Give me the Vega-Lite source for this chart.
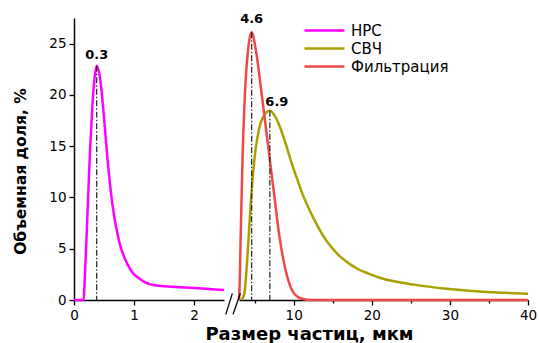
{
  "$schema": "https://vega.github.io/schema/vega-lite/v6.json",
  "padding": {"left": 13, "top": 13, "right": 0, "bottom": 0},
  "autosize": {"type": "pad"},
  "bounds": "flush",
  "config": {
    "view": {"stroke": null},
    "font": "DejaVu Sans",
    "axis": {
      "grid": false, "domainColor": "#000", "tickColor": "#000", "labelColor": "#000", "titleColor": "#000",
      "domainWidth": 1.5, "tickWidth": 1.3, "labelFont": "DejaVu Sans", "labelFontSize": 13.5, "labelPadding": 3,
      "titleFont": "DejaVu Sans", "titleFontWeight": "bold", "labelFlush": false
    }
  },
  "datasets": {
    "npc": [
      {"s": "НРС", "x": 0, "y": 0}, {"s": "НРС", "x": 0.1, "y": 0}, {"s": "НРС", "x": 0.16, "y": 0}, {"s": "НРС", "x": 0.175, "y": 1.5}, {"s": "НРС", "x": 0.222, "y": 8.0},
      {"s": "НРС", "x": 0.267, "y": 14.55}, {"s": "НРС", "x": 0.305, "y": 18.8}, {"s": "НРС", "x": 0.344, "y": 21.7}, {"s": "НРС", "x": 0.378, "y": 22.85},
      {"s": "НРС", "x": 0.41, "y": 22.4}, {"s": "НРС", "x": 0.433, "y": 21.7}, {"s": "НРС", "x": 0.5, "y": 17.8}, {"s": "НРС", "x": 0.556, "y": 13.9},
      {"s": "НРС", "x": 0.639, "y": 9.35}, {"s": "НРС", "x": 0.75, "y": 5.76}, {"s": "НРС", "x": 0.89, "y": 3.5}, {"s": "НРС", "x": 1.0, "y": 2.5},
      {"s": "НРС", "x": 1.067, "y": 2.2}, {"s": "НРС", "x": 1.18, "y": 1.75}, {"s": "НРС", "x": 1.29, "y": 1.5}, {"s": "НРС", "x": 1.45, "y": 1.37},
      {"s": "НРС", "x": 1.62, "y": 1.3}, {"s": "НРС", "x": 1.85, "y": 1.22}, {"s": "НРС", "x": 2.07, "y": 1.15}, {"s": "НРС", "x": 2.3, "y": 1.05}, {"s": "НРС", "x": 2.5, "y": 0.97}
    ],
    "rest": [
      {"s": "СВЧ", "x": 3.3, "y": 0}, {"s": "СВЧ", "x": 3.68, "y": 0.6}, {"s": "СВЧ", "x": 4.1, "y": 4.5},
      {"s": "СВЧ", "x": 4.53, "y": 9.7}, {"s": "СВЧ", "x": 4.96, "y": 13.6}, {"s": "СВЧ", "x": 5.6, "y": 16.8},
      {"s": "СВЧ", "x": 6.22, "y": 18.0}, {"s": "СВЧ", "x": 6.95, "y": 18.45}, {"s": "СВЧ", "x": 7.7, "y": 17.8},
      {"s": "СВЧ", "x": 8.56, "y": 16.2}, {"s": "СВЧ", "x": 9.2, "y": 14.7}, {"s": "СВЧ", "x": 9.84, "y": 13.1},
      {"s": "СВЧ", "x": 10.5, "y": 11.7}, {"s": "СВЧ", "x": 11.2, "y": 10.2}, {"s": "СВЧ", "x": 12.2, "y": 8.5},
      {"s": "СВЧ", "x": 13.0, "y": 7.3}, {"s": "СВЧ", "x": 13.9, "y": 6.1}, {"s": "СВЧ", "x": 15.0, "y": 5.0},
      {"s": "СВЧ", "x": 16.0, "y": 4.2}, {"s": "СВЧ", "x": 17.2, "y": 3.5}, {"s": "СВЧ", "x": 18.15, "y": 3.05},
      {"s": "СВЧ", "x": 19.5, "y": 2.6}, {"s": "СВЧ", "x": 21.1, "y": 2.15}, {"s": "СВЧ", "x": 23.0, "y": 1.8},
      {"s": "СВЧ", "x": 25.4, "y": 1.5}, {"s": "СВЧ", "x": 27.5, "y": 1.28}, {"s": "СВЧ", "x": 29.6, "y": 1.1},
      {"s": "СВЧ", "x": 31.7, "y": 0.95}, {"s": "СВЧ", "x": 33.8, "y": 0.82}, {"s": "СВЧ", "x": 37.0, "y": 0.7},
      {"s": "СВЧ", "x": 40.0, "y": 0.6},
      {"s": "Фильтрация", "x": 3.0, "y": 0}, {"s": "Фильтрация", "x": 3.04, "y": 0.55}, {"s": "Фильтрация", "x": 3.26, "y": 7.7},
      {"s": "Фильтрация", "x": 3.47, "y": 14.2}, {"s": "Фильтрация", "x": 3.8, "y": 20.7}, {"s": "Фильтрация", "x": 4.19, "y": 24.6},
      {"s": "Фильтрация", "x": 4.62, "y": 26.1}, {"s": "Фильтрация", "x": 5.17, "y": 24.3}, {"s": "Фильтрация", "x": 5.8, "y": 20.7},
      {"s": "Фильтрация", "x": 6.44, "y": 16.8}, {"s": "Фильтрация", "x": 6.86, "y": 14.2}, {"s": "Фильтрация", "x": 7.5, "y": 10.3},
      {"s": "Фильтрация", "x": 8.14, "y": 6.4}, {"s": "Фильтрация", "x": 8.99, "y": 2.83}, {"s": "Фильтрация", "x": 9.84, "y": 0.88},
      {"s": "Фильтрация", "x": 10.68, "y": 0.23}, {"s": "Фильтрация", "x": 11.5, "y": 0.05}, {"s": "Фильтрация", "x": 12.2, "y": 0},
      {"s": "Фильтрация", "x": 40, "y": 0}
    ],
    "peaks": [
      {"s": "НРС", "x": 0.378, "y": 22.85, "y0": 0, "label": "0.3"},
      {"s": "Фильтрация", "x": 4.62, "y": 26.1, "y0": 0, "label": "4.6"},
      {"s": "СВЧ", "x": 6.95, "y": 18.45, "y0": 0, "label": "6.9"}
    ],
    "breaks": [
      {"x": 1.31, "x2": 2.15, "y": -1.4, "y2": 0.65},
      {"x": 2.24, "x2": 3.17, "y": -1.4, "y2": 0.65}
    ]
  },
  "spacing": 15,
  "hconcat": [
    {
      "width": 150, "height": 282,
      "layer": [
        {
          "data": {"name": "npc"},
          "mark": {"type": "line", "color": "#FF00FF", "strokeWidth": 2.5, "interpolate": "monotone"},
          "encoding": {
            "x": {"field": "x", "type": "quantitative", "scale": {"domain": [0, 2.5], "nice": false, "zero": false},
              "axis": {"values": [0, 0.5, 1, 1.5, 2], "labelExpr": "datum.value % 1 === 0 ? format(datum.value, 'd') : ''",
                "tickSize": {"condition": {"test": "datum.value % 1 === 0", "value": 5}, "value": 3}, "title": null}},
            "y": {"field": "y", "type": "quantitative", "scale": {"domain": [0, 27.5], "nice": false},
              "axis": {"values": [0, 2.5, 5, 7.5, 10, 12.5, 15, 17.5, 20, 22.5, 25, 27.5],
                "labelExpr": "datum.value % 5 === 0 ? format(datum.value, 'd') : ''",
                "tickSize": {"condition": {"test": "datum.value % 5 === 0", "value": 5}, "value": 3},
                "title": "Объемная доля, %", "titleFontSize": 15.5, "titlePadding": 20, "titleY": 153}}
          }
        },
        {
          "data": {"name": "peaks"},
          "transform": [{"filter": "datum.s === 'НРС'"}],
          "mark": {"type": "rule", "color": "#222", "strokeWidth": 1.2, "strokeDash": [6, 2, 1.5, 2]},
          "encoding": {
            "x": {"field": "x", "type": "quantitative"},
            "y": {"field": "y", "type": "quantitative"},
            "y2": {"field": "y0"}
          }
        },
        {
          "data": {"name": "peaks"},
          "transform": [{"filter": "datum.s === 'НРС'"}],
          "mark": {"type": "text", "font": "DejaVu Sans", "fontWeight": "bold", "fontSize": 13, "baseline": "alphabetic", "dy": -7, "color": "#000"},
          "encoding": {
            "x": {"field": "x", "type": "quantitative"},
            "y": {"field": "y", "type": "quantitative"},
            "text": {"field": "label", "type": "nominal"}
          }
        }
      ]
    },
    {
      "width": 289, "height": 282,
      "layer": [
        {
          "data": {"name": "rest"},
          "mark": {"type": "line", "strokeWidth": 2.5, "interpolate": "monotone"},
          "encoding": {
            "x": {"field": "x", "type": "quantitative", "scale": {"domain": [3, 40], "nice": false, "zero": false},
              "axis": {"values": [5, 10, 15, 20, 25, 30, 35, 40], "labelExpr": "datum.value % 10 === 0 ? format(datum.value, 'd') : ''",
                "tickSize": {"condition": {"test": "datum.value % 10 === 0", "value": 5}, "value": 3},
                "title": "Размер частиц, мкм", "titleFontSize": 18, "titleX": 70, "titleAlign": "center", "titlePadding": 4}},
            "y": {"field": "y", "type": "quantitative", "scale": {"domain": [0, 27.5], "nice": false}, "axis": null},
            "color": {"field": "s", "type": "nominal",
              "scale": {"domain": ["НРС", "СВЧ", "Фильтрация"], "range": ["#FF00FF", "#A9A000", "#F04848"]},
              "legend": {"orient": "none", "legendX": 243, "legendY": 5, "title": null, "padding": 0,
                "labelFont": "DejaVu Sans", "labelFontSize": 15, "labelColor": "#000",
                "symbolType": "M-5,0H5", "symbolSize": 64, "symbolStrokeWidth": 2.5, "labelOffset": 19, "rowPadding": 2}}
          }
        },
        {
          "data": {"name": "peaks"},
          "transform": [{"filter": "datum.s !== 'НРС'"}],
          "mark": {"type": "rule", "color": "#222", "strokeWidth": 1.2, "strokeDash": [6, 2, 1.5, 2]},
          "encoding": {
            "x": {"field": "x", "type": "quantitative"},
            "y": {"field": "y", "type": "quantitative"},
            "y2": {"field": "y0"}
          }
        },
        {
          "data": {"name": "peaks"},
          "transform": [{"filter": "datum.s === 'Фильтрация'"}],
          "mark": {"type": "text", "font": "DejaVu Sans", "fontWeight": "bold", "fontSize": 13, "baseline": "alphabetic", "dy": -9, "color": "#000"},
          "encoding": {
            "x": {"field": "x", "type": "quantitative"},
            "y": {"field": "y", "type": "quantitative"},
            "text": {"field": "label", "type": "nominal"}
          }
        },
        {
          "data": {"name": "peaks"},
          "transform": [{"filter": "datum.s === 'СВЧ'"}],
          "mark": {"type": "text", "font": "DejaVu Sans", "fontWeight": "bold", "fontSize": 13, "baseline": "alphabetic", "dy": -5, "dx": 7, "color": "#000"},
          "encoding": {
            "x": {"field": "x", "type": "quantitative"},
            "y": {"field": "y", "type": "quantitative"},
            "text": {"field": "label", "type": "nominal"}
          }
        },
        {
          "data": {"name": "breaks"},
          "mark": {"type": "rule", "color": "#000", "strokeWidth": 1.3},
          "encoding": {
            "x": {"field": "x", "type": "quantitative"},
            "x2": {"field": "x2"},
            "y": {"field": "y", "type": "quantitative"},
            "y2": {"field": "y2"}
          }
        }
      ]
    }
  ]
}
